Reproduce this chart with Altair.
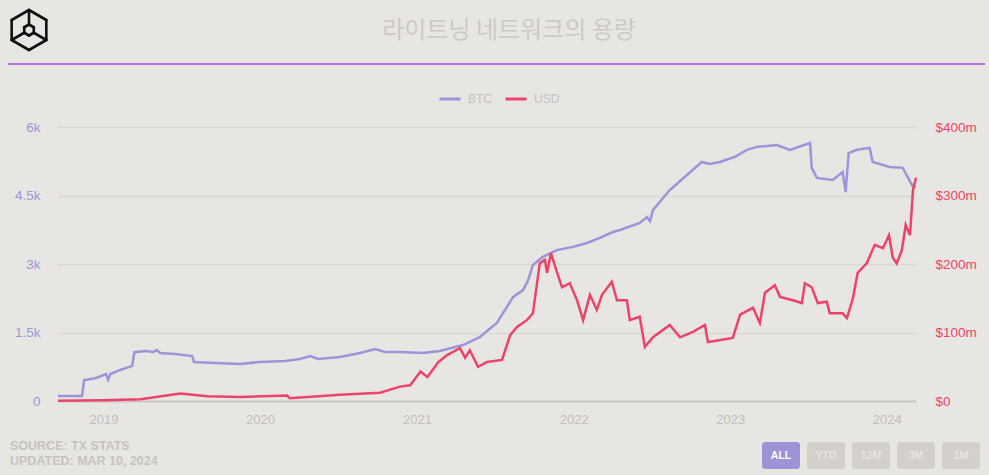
import math
import altair as alt
import pandas as pd

# ---------------- data ----------------
btc_dates = [
    "2018-09-17", "2018-11-12", "2018-11-17", "2018-12-13", "2019-01-07", "2019-01-12",
    "2019-01-17", "2019-02-09", "2019-03-09", "2019-03-14", "2019-04-08", "2019-04-27",
    "2019-05-06", "2019-05-13", "2019-06-17", "2019-07-27", "2019-07-31", "2019-09-18",
    "2019-11-16", "2020-01-01", "2020-02-28", "2020-04-03", "2020-04-27", "2020-05-15",
    "2020-07-05", "2020-08-21", "2020-09-25", "2020-10-18", "2020-11-22", "2021-01-15",
    "2021-02-23", "2021-04-18", "2021-05-27", "2021-07-06", "2021-08-13", "2021-09-05",
    "2021-09-17", "2021-09-28", "2021-10-21", "2021-11-23", "2021-12-30", "2022-02-01",
    "2022-03-03", "2022-04-03", "2022-04-19", "2022-06-04", "2022-06-21", "2022-06-28",
    "2022-07-05", "2022-08-13", "2022-09-22", "2022-10-27", "2022-11-14", "2022-12-08",
    "2023-01-12", "2023-02-09", "2023-03-04", "2023-04-20", "2023-05-20", "2023-07-06",
    "2023-07-10", "2023-07-22", "2023-08-28", "2023-09-20", "2023-09-27", "2023-10-04",
    "2023-10-23", "2023-11-22", "2023-11-29", "2024-01-08", "2024-02-07", "2024-03-02",
    "2024-03-09",
]
btc_values = [
    110, 110, 460, 500, 590, 470,
    590, 680, 770, 1070, 1095, 1075,
    1115, 1050, 1030, 985, 855, 830,
    810, 855, 875, 920, 985, 920,
    965, 1050, 1140, 1075, 1075, 1050,
    1095, 1225, 1400, 1710, 2280, 2430,
    2650, 2980, 3155, 3305, 3375, 3460,
    3570, 3700, 3745, 3900, 4030, 3940,
    4185, 4620, 4950, 5235, 5190, 5235,
    5345, 5500, 5565, 5605, 5500, 5650,
    5105, 4885, 4840, 5015, 4575, 5430,
    5500, 5540, 5235, 5125, 5105, 4690,
    4700,
]

usd_dates = [
    "2018-09-17", "2019-01-01", "2019-03-28", "2019-06-29", "2019-08-31", "2019-11-16",
    "2020-03-04", "2020-03-10", "2020-07-05", "2020-10-07", "2020-11-22", "2020-12-16",
    "2021-01-09", "2021-01-25", "2021-02-20", "2021-03-12", "2021-04-11", "2021-04-23",
    "2021-05-04", "2021-05-23", "2021-06-13", "2021-07-18", "2021-08-06", "2021-08-22",
    "2021-09-14", "2021-09-28", "2021-10-14", "2021-10-26", "2021-10-31", "2021-11-09",
    "2021-11-23", "2021-12-05", "2021-12-23", "2022-01-09", "2022-01-23", "2022-02-08",
    "2022-02-24", "2022-03-08", "2022-03-31", "2022-04-12", "2022-05-05", "2022-05-12",
    "2022-06-04", "2022-06-16", "2022-07-05", "2022-08-13", "2022-09-06", "2022-10-06",
    "2022-11-03", "2022-11-10", "2023-01-07", "2023-01-24", "2023-02-23", "2023-03-11",
    "2023-03-23", "2023-04-15", "2023-04-27", "2023-05-27", "2023-06-17", "2023-06-24",
    "2023-07-10", "2023-07-24", "2023-08-14", "2023-08-21", "2023-09-20", "2023-09-30",
    "2023-10-14", "2023-10-25", "2023-11-15", "2023-12-04", "2023-12-23", "2024-01-06",
    "2024-01-15", "2024-01-24", "2024-02-05", "2024-02-14", "2024-02-24", "2024-03-02",
    "2024-03-09",
]
usd_values = [  # millions of US dollars
    0.5, 1, 2.5, 11, 7, 6,
    8, 4, 9, 12, 21, 23,
    43, 35, 57, 67, 77, 63,
    74, 50, 57, 60, 96, 108,
    118, 128, 201, 206, 187, 216,
    188, 166, 172, 147, 118, 155,
    133, 155, 174, 147, 147, 118,
    123, 79, 93, 111, 93, 101,
    111, 86, 92, 126, 136, 114,
    158, 169, 152, 147, 143, 172,
    166, 143, 145, 128, 128, 121,
    150, 187, 201, 228, 223, 242,
    209, 201, 220, 257, 242, 308,
    326,
]

series_names = ["BTC", "USD"]
btc_ticks = [0, 1500, 3000, 4500, 6000]
usd_ticks = [0, 100, 200, 300, 400]
tick_years = [2019, 2020, 2021, 2022, 2023, 2024]

title_text = "라이트닝 네트워크의 용량"
footer_lines = ["SOURCE: TX STATS", "UPDATED: MAR 10, 2024"]
button_labels = ["ALL", "YTD", "12M", "3M", "1M"]

# ---------------- styling ----------------
BG = "#e8e6e2"
BTC_C = "#9d94da"
USD_C = "#eb4468"
GRID_C = "#dbd8d4"
FONT = "Liberation Sans"

PAD_L, PAD_T = 58, 127
W, H = 858, 274

btc_df = pd.DataFrame({"date": pd.to_datetime(btc_dates), "btc": btc_values,
                       "series": series_names[0]})
usd_df = pd.DataFrame({"date": pd.to_datetime(usd_dates), "usd": usd_values,
                       "series": series_names[1]})

x_scale = alt.Scale(
    domain=[alt.DateTime(year=2018, month=9, date=17),
            alt.DateTime(year=2024, month=3, date=9)],
    nice=False,
)
x_enc = alt.X(
    "date:T", scale=x_scale,
    axis=alt.Axis(
        title=None, format="%Y", grid=False, ticks=False,
        values=[alt.DateTime(year=y, month=1, date=1) for y in tick_years],
        labelColor="#c2bfbb", labelFontSize=13, labelFont=FONT, labelPadding=12,
        domainColor="#cac7c3", domainWidth=2,
    ),
)

color_enc = alt.Color(
    "series:N",
    scale=alt.Scale(domain=series_names, range=[BTC_C, USD_C]),
    legend=alt.Legend(
        title=None, orient="none", direction="horizontal",
        legendX=380, legendY=-40, padding=0,
        symbolType="stroke", symbolSize=441, symbolStrokeWidth=3,
        labelColor="#c4c1bd", labelFontSize=12, labelFont=FONT,
        labelOffset=6, columnPadding=7,
    ),
)

btc_line = alt.Chart(btc_df).mark_line(strokeWidth=2.5).encode(
    x=x_enc,
    y=alt.Y(
        "btc:Q", scale=alt.Scale(domain=[0, 6000], nice=False),
        axis=alt.Axis(
            title=None, values=btc_ticks, orient="left",
            labelExpr="datum.value == 0 ? '0' : (datum.value / 1000) + 'k'",
            domain=False, ticks=False, grid=True, gridColor=GRID_C, gridWidth=1.5,
            labelColor=BTC_C, labelFontSize=13.5, labelFont=FONT, labelPadding=18,
        ),
    ),
    color=color_enc,
)

usd_line = alt.Chart(usd_df).mark_line(strokeWidth=2.5).encode(
    x=x_enc,
    y=alt.Y(
        "usd:Q", scale=alt.Scale(domain=[0, 400], nice=False),
        axis=alt.Axis(
            title=None, values=usd_ticks, orient="right",
            labelExpr="'$' + datum.value + (datum.value == 0 ? '' : 'm')",
            domain=False, ticks=False, grid=False,
            labelColor=USD_C, labelFontSize=13.5, labelFont=FONT, labelPadding=19,
        ),
    ),
    color=color_enc,
)

data_layer = alt.layer(btc_line, usd_line).resolve_scale(y="independent")

# ---------------- decorations (header, logo, footer, buttons) ----------------
one = pd.DataFrame({"k": [0]})
deco = []


def px(x):
    return x - PAD_L


def py(y):
    return y - PAD_T


deco.append(
    alt.Chart(pd.DataFrame({"t": [title_text]})).mark_text(
        font="Noto Sans CJK KR", fontSize=24, color="#cdcac6",
        align="center", baseline="middle",
    ).encode(x=alt.value(px(509)), y=alt.value(py(31)), text="t:N")
)

deco.append(
    alt.Chart(one).mark_rule(color="#a54ae6", strokeWidth=1.5).encode(
        x=alt.value(px(8)), x2=alt.value(px(985)),
        y=alt.value(py(64)), y2=alt.value(py(64)),
    )
)

# logo: outer hexagon, inner hexagon and three connecting edges
cx, cy, r_out, r_in = 29, 30, 20, 5.5


def hex_pts(r):
    return [(cx + r * math.cos(math.radians(-90 + 60 * i)),
             cy + r * math.sin(math.radians(-90 + 60 * i))) for i in range(6)]


outer = hex_pts(r_out)
inner = hex_pts(r_in)
segs = []
for i in range(6):
    segs.append((outer[i], outer[(i + 1) % 6]))
    segs.append((inner[i], inner[(i + 1) % 6]))
for idx in (0, 2, 4):
    segs.append((inner[idx], outer[idx]))
for (a, b) in segs:
    deco.append(
        alt.Chart(one).mark_rule(color="#111111", strokeWidth=2.6, strokeCap="round").encode(
            x=alt.value(px(a[0])), x2=alt.value(px(b[0])),
            y=alt.value(py(a[1])), y2=alt.value(py(b[1])),
        )
    )

for i, line in enumerate(footer_lines):
    deco.append(
        alt.Chart(pd.DataFrame({"t": [line]})).mark_text(
            font=FONT, fontSize=12.5, fontWeight="bold", color="#c6c3bf",
            align="left", baseline="middle",
        ).encode(x=alt.value(px(10)), y=alt.value(py(446 + 15 * i)), text="t:N")
    )

for i, lab in enumerate(button_labels):
    x0 = 762 + 45 * i
    active = i == 0
    deco.append(
        alt.Chart(one).mark_rect(
            color="#9d93d8" if active else "#d3d0cb", cornerRadius=3,
        ).encode(
            x=alt.value(px(x0)), x2=alt.value(px(x0 + 38)),
            y=alt.value(py(442)), y2=alt.value(py(469)),
        )
    )
    deco.append(
        alt.Chart(pd.DataFrame({"t": [lab]})).mark_text(
            font=FONT, fontSize=10.5, fontWeight="bold",
            color="#ffffff" if active else "#e6e4e1",
            align="center", baseline="middle",
        ).encode(x=alt.value(px(x0 + 19)), y=alt.value(py(456)), text="t:N")
    )

chart = alt.layer(data_layer, *deco).properties(
    width=W, height=H,
    padding={"left": PAD_L, "top": PAD_T, "right": 989 - PAD_L - W, "bottom": 475 - PAD_T - H},
    autosize=alt.AutoSizeParams(type="none"),
    background=BG,
).configure_view(stroke=None)

chart.save("out.html", embed_options={"renderer": "svg", "actions": False})
